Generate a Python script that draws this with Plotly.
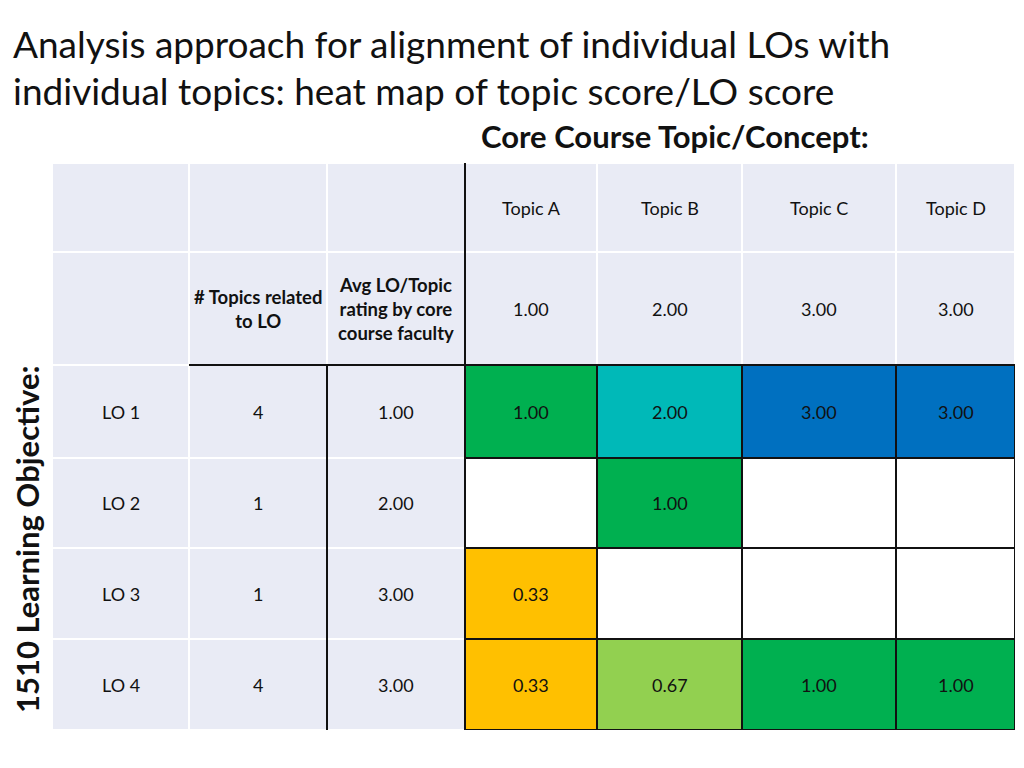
import plotly.graph_objects as go
import numpy as np

# ---------------- data ----------------
title_lines = ["Analysis approach for alignment of individual LOs with",
               "individual topics: heat map of topic score/LO score"]
col_title = "Core Course Topic/Concept:"
row_title = "1510 Learning Objective:"

topics = ["Topic A", "Topic B", "Topic C", "Topic D"]
topic_scores = [1.00, 2.00, 3.00, 3.00]
los = ["LO 1", "LO 2", "LO 3", "LO 4"]
n_topics_related = [4, 1, 1, 4]
avg_rating = [1.00, 2.00, 3.00, 3.00]
heat_values = [
    [1.00, 2.00, 3.00, 3.00],
    [None, 1.00, None, None],
    [0.33, None, None, None],
    [0.33, 0.67, 1.00, 1.00],
]
hdr_topics_related = "# Topics related<br>to LO"
hdr_avg = "Avg LO/Topic<br>rating by core<br>course faculty"

# ---------------- layout constants (pixels) ----------------
col_w = [137, 138, 138, 132, 145, 154, 119]
row_h = [89, 113, 93, 90, 91, 91]
x_edges = np.concatenate([[0], np.cumsum(col_w)])
y_edges = np.concatenate([[0], np.cumsum(row_h)])
xc = (x_edges[:-1] + x_edges[1:]) / 2
yc = (y_edges[:-1] + y_edges[1:]) / 2

L, T = 52, 163
PW, PH = float(x_edges[-1]), float(y_edges[-1])

FONT = "Lato"
GREY = "#E9EBF5"

fig = go.Figure()

# grey background cells (everything except the heat-map block)
grey = np.ones((6, 7))
grey[2:, 3:] = np.nan
fig.add_trace(go.Heatmap(
    x=x_edges, y=y_edges, z=grey, colorscale=[[0, GREY], [1, GREY]],
    showscale=False, xgap=2, ygap=2, hoverinfo="skip"))

# heat map block
heat = np.full((6, 7), np.nan)
for i, row in enumerate(heat_values):
    for j, v in enumerate(row):
        if v is not None:
            heat[2 + i, 3 + j] = v
cs = [
    [0.0, "#FFC000"], [0.167, "#FFC000"],
    [0.167, "#92D050"], [0.28, "#92D050"],
    [0.28, "#00B050"], [0.5, "#00B050"],
    [0.5, "#00B9B8"], [0.83, "#00B9B8"],
    [0.83, "#0070C0"], [1.0, "#0070C0"],
]
fig.add_trace(go.Heatmap(
    x=x_edges, y=y_edges, z=heat, colorscale=cs, zmin=0, zmax=3.0,
    showscale=False, hoverinfo="skip"))

# ---------------- black lines ----------------
LC = "#111111"
LW = 2
def line(x0, y0, x1, y1):
    fig.add_shape(type="line", xref="x", yref="y", x0=x0, y0=y0, x1=x1, y1=y1,
                  line=dict(color=LC, width=LW))

line(x_edges[3], -3, x_edges[3], y_edges[6])
line(x_edges[2], y_edges[2], x_edges[2], y_edges[6])
line(x_edges[1], y_edges[2], x_edges[7], y_edges[2])
for k in range(4, 8):
    line(x_edges[k], y_edges[2], x_edges[k], y_edges[6])
for k in range(3, 7):
    line(x_edges[3], y_edges[k], x_edges[7], y_edges[k])

# ---------------- cell texts ----------------
def txt(x, y, s, size=18, bold=False):
    fig.add_annotation(x=x, y=y, xref="x", yref="y", text=("<b>%s</b>" % s) if bold else s,
                       showarrow=False, font=dict(family=FONT, size=size, color="#111111"),
                       align="center")

for j, t in enumerate(topics):
    txt(xc[3 + j], yc[0], t)
    txt(xc[3 + j], yc[1], "%.2f" % topic_scores[j])
txt(xc[1], yc[1], hdr_topics_related, size=18.5, bold=True)
txt(xc[2], yc[1], hdr_avg, size=18.5, bold=True)
for i, lo in enumerate(los):
    txt(xc[0], yc[2 + i], lo)
    txt(xc[1], yc[2 + i], str(n_topics_related[i]))
    txt(xc[2], yc[2 + i], "%.2f" % avg_rating[i])
    for j, v in enumerate(heat_values[i]):
        if v is not None:
            txt(xc[3 + j], yc[2 + i], "%.2f" % v)

# ---------------- titles (pixel positions converted to paper coords) ----------------
def px(x):
    return (x - L) / PW
def py(y):
    return 1 - (y - T) / PH

fig.add_annotation(xref="paper", yref="paper", x=px(11), y=py(43),
                   xanchor="left", yanchor="middle", text=title_lines[0], showarrow=False,
                   font=dict(family=FONT, size=37, color="#111111"))
fig.add_annotation(xref="paper", yref="paper", x=px(11), y=py(90),
                   xanchor="left", yanchor="middle", text=title_lines[1], showarrow=False,
                   font=dict(family=FONT, size=37, color="#111111"))
fig.add_annotation(xref="paper", yref="paper", x=px(675), y=py(136),
                   xanchor="center", yanchor="middle", text="<b>%s</b>" % col_title, showarrow=False,
                   font=dict(family=FONT, size=31, color="#111111"))
fig.add_annotation(xref="paper", yref="paper", x=px(27), y=py(540),
                   xanchor="center", yanchor="middle", text="<b>%s</b>" % row_title, showarrow=False,
                   textangle=-90, font=dict(family=FONT, size=31, color="#111111"))

fig.update_xaxes(range=[0, PW], visible=False, fixedrange=True)
fig.update_yaxes(range=[PH, 0], visible=False, fixedrange=True)
fig.update_layout(width=1024, height=768, autosize=False,
                  margin=dict(l=L, r=1024 - L - PW, t=T, b=768 - T - PH),
                  paper_bgcolor="white", plot_bgcolor="white", showlegend=False)

fig.write_html("out.html", config={"displayModeBar": False},
               post_script="document.body.style.margin='0';document.body.style.overflow='hidden';")
